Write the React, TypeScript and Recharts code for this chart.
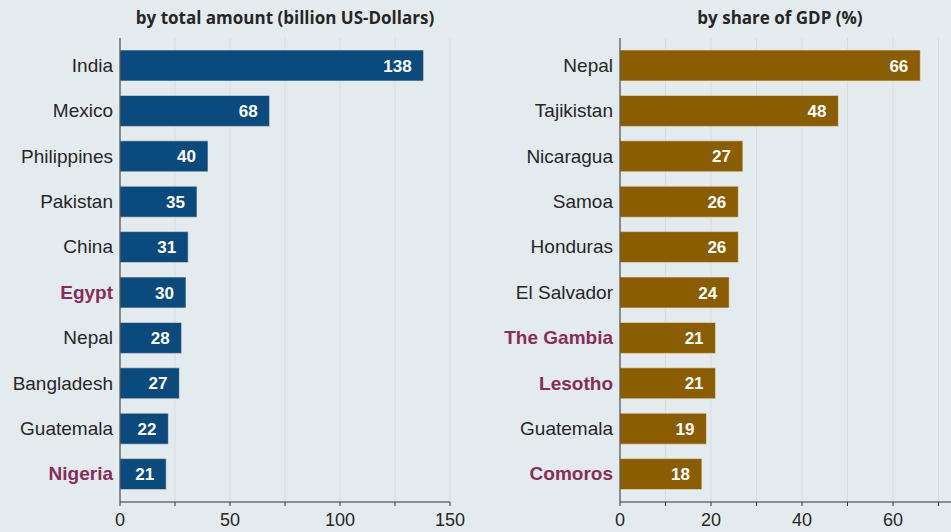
import { Bar, BarChart, CartesianGrid, LabelList, XAxis, YAxis } from "recharts";

const amountCountries = ["India", "Mexico", "Philippines", "Pakistan", "China", "Egypt", "Nepal", "Bangladesh", "Guatemala", "Nigeria"];
const amountValues = [138, 68, 40, 35, 31, 30, 28, 27, 22, 21];
const amountHighlight = ["Egypt", "Nigeria"];
const amountTicks = [0, 25, 50, 75, 100, 125, 150];

const gdpCountries = ["Nepal", "Tajikistan", "Nicaragua", "Samoa", "Honduras", "El Salvador", "The Gambia", "Lesotho", "Guatemala", "Comoros"];
const gdpValues = [66, 48, 27, 26, 26, 24, 21, 21, 19, 18];
const gdpHighlight = ["The Gambia", "Lesotho", "Comoros"];
const gdpTicks = [0, 10, 20, 30, 40, 50, 60, 70, 80];

const BG = "#e4ebef";
const TEXT = "#262626";
const HIGHLIGHT = "#8a2c58";
const FONT = "'Liberation Sans', Arial, sans-serif";

function CountryTick({ x, y, payload, highlight }: any): JSX.Element {
  const hot = highlight.includes(payload.value);
  return (
    <text
      x={x + 1}
      y={y}
      dy={6}
      textAnchor="end"
      fontFamily={FONT}
      fontSize={19}
      fontWeight={hot ? 700 : 400}
      fill={hot ? HIGHLIGHT : TEXT}
    >
      {payload.value}
    </text>
  );
}

interface PanelProps {
  title: string;
  countries: string[];
  values: number[];
  highlight: string[];
  ticks: number[];
  labelEvery: number;
  labelMax: number;
  color: string;
  width: number;
  axisWidth: number;
  rightMargin: number;
  left: number;
  titleX: number;
}

function Panel(props: PanelProps): JSX.Element {
  const data = props.countries.map((country, i) => ({ country, value: props.values[i] }));
  const max = props.ticks[props.ticks.length - 1];
  return (
    <div style={{ position: "absolute", left: props.left, top: 0 }}>
      <div
        style={{
          position: "absolute",
          left: props.titleX - 200,
          width: 400,
          top: 6,
          textAlign: "center",
          fontFamily: "'Open Sans', sans-serif",
          fontWeight: 700,
          fontSize: 17,
          color: TEXT
        }}
      >
        {props.title}
      </div>
      <BarChart
        width={props.width}
        height={532}
        data={data}
        layout="vertical"
        margin={{ top: 38, right: props.rightMargin, bottom: 0, left: 0 }}
        barCategoryGap={7}
      >
        <CartesianGrid horizontal={false} stroke="#d6dee2" />
        <XAxis
          type="number"
          domain={[0, max]}
          ticks={props.ticks}
          interval={0}
          height={30}
          tickSize={4}
          stroke="#333"
          tickFormatter={(v: number) =>
            v % props.labelEvery === 0 && v <= props.labelMax ? String(v) : ""
          }
          tick={{ fill: TEXT, fontSize: 18, fontFamily: FONT, dy: 5 }}
        />
        <YAxis
          type="category"
          dataKey="country"
          width={props.axisWidth}
          padding={{ top: 5, bottom: 5 }}
          tickLine={false}
          stroke="#333"
          interval={0}
          tick={(tp: any) => <CountryTick {...tp} highlight={props.highlight} />}
        />
        <Bar dataKey="value" fill={props.color} stroke="#f0e8d8" strokeWidth={0.6} isAnimationActive={false}>
          <LabelList
            dataKey="value"
            position="insideRight"
            offset={12}
            fill="#ffffff"
            fontSize={17}
            fontWeight={700}
            fontFamily={FONT}
          />
        </Bar>
      </BarChart>
    </div>
  );
}

export default function App(): JSX.Element {
  return (
    <div
      style={{
        position: "fixed",
        left: 0,
        top: 0,
        width: 951,
        height: 532,
        overflow: "hidden",
        background: BG
      }}
    >
      <Panel
        title="by total amount (billion US-Dollars)"
        countries={amountCountries}
        values={amountValues}
        highlight={amountHighlight}
        ticks={amountTicks}
        labelEvery={50}
        labelMax={150}
        color="#0b4a7c"
        width={480}
        axisWidth={120}
        rightMargin={30}
        left={0}
        titleX={285}
      />
      <Panel
        title="by share of GDP (%)"
        countries={gdpCountries}
        values={gdpValues}
        highlight={gdpHighlight}
        ticks={gdpTicks}
        labelEvery={20}
        labelMax={60}
        color="#8a5d00"
        width={514}
        axisWidth={140}
        rightMargin={10}
        left={480}
        titleX={300}
      />
    </div>
  );
}
